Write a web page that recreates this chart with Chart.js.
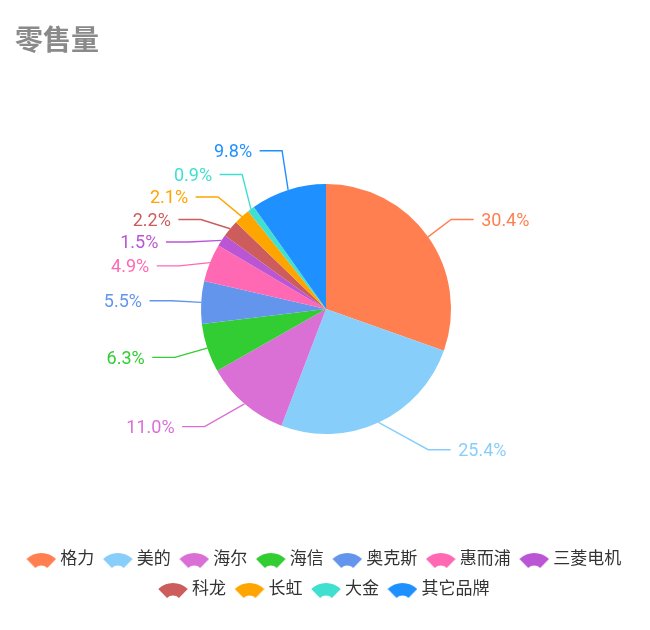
<!DOCTYPE html>
<html>
<head>
<meta charset="utf-8">
<title>零售量</title>
<script src="https://cdn.jsdelivr.net/npm/chart.js@4.4.0/dist/chart.umd.min.js"></script>
<style>
    html, body { margin: 0; padding: 0; background: #fff; }
</style>
</head>
<body>
<canvas id="chartLingshou" width="650" height="630"></canvas>
<script>
/**
 * Gráfico de pastel: 零售量 por marca
 */

// Datos
const marcas = ['格力', '美的', '海尔', '海信', '奥克斯', '惠而浦', '三菱电机', '科龙', '长虹', '大金', '其它品牌'];
const porcentajes = [30.4, 25.4, 11.0, 6.3, 5.5, 4.9, 1.5, 2.2, 2.1, 0.9, 9.8];
const colores = ['#ff7f50', '#87cefa', '#da70d6', '#32cd32', '#6495ed', '#ff69b4',
                 '#ba55d3', '#cd5c5c', '#ffa500', '#40e0d0', '#1e90ff'];

const fuenteTexto = "Roboto, 'Noto Sans CJK SC', sans-serif";

// Icono de abanico para la leyenda
function iconoAbanico(color) {
    const c = document.createElement('canvas');
    c.width = 30;
    c.height = 16;
    const g = c.getContext('2d');
    const cx = 15, cy = 22, ro = 21, ri = 8.5, ab = 0.78;
    g.beginPath();
    g.arc(cx, cy, ro, -Math.PI / 2 - ab, -Math.PI / 2 + ab);
    g.arc(cx, cy, ri, -Math.PI / 2 + ab, -Math.PI / 2 - ab, true);
    g.closePath();
    g.fillStyle = color;
    g.fill();
    return c;
}
const iconos = colores.map(c => iconoAbanico(c));

// Etiquetas externas con línea guía (evita solapamientos por lado)
const etiquetasExternas = {
    id: 'etiquetasExternas',
    afterDatasetsDraw(chart) {
        const ctx = chart.ctx;
        const arcos = chart.getDatasetMeta(0).data;
        const largo = 30, largo2 = 30, corte = 7.5, alto = 22.5, tamFuente = 18;

        const items = arcos.map((arco, i) => {
            const p = arco.getProps(['x', 'y', 'startAngle', 'endAngle', 'outerRadius'], true);
            const medio = (p.startAngle + p.endAngle) / 2;
            const cos = Math.cos(medio), sin = Math.sin(medio);
            return {
                i: i, cx: p.x, cy: p.y, r: p.outerRadius,
                lado: cos >= 0 ? 1 : -1,
                x0: p.x + cos * p.outerRadius,
                y0: p.y + sin * p.outerRadius,
                dxNatural: Math.abs(cos) * (p.outerRadius + largo + largo2),
                top: p.y + sin * (p.outerRadius + largo) - alto / 2
            };
        });

        [1, -1].forEach(lado => {
            const lista = items.filter(it => it.lado === lado).sort((a, b) => a.top - b.top);
            if (!lista.length) return;
            const cx = lista[0].cx, cy = lista[0].cy, radio = lista[0].r + largo + largo2;

            function subir(fin, delta) {
                for (let j = fin; j >= 0; j--) {
                    lista[j].top -= delta;
                    if (j > 0 && lista[j].top > lista[j - 1].top + alto) break;
                }
            }
            function bajar(inicio, fin, delta) {
                for (let j = inicio; j < fin; j++) {
                    lista[j].top += delta;
                    if (j > inicio && j + 1 < fin && lista[j + 1].top > lista[j].top + alto) {
                        subir(j, delta / 2);
                        return;
                    }
                }
                subir(fin - 1, delta / 2);
            }

            let ultimoY = 0;
            for (let k = 0; k < lista.length; k++) {
                const d = lista[k].top - ultimoY;
                if (d < 0) bajar(k, lista.length, -d);
                ultimoY = lista[k].top + alto;
            }

            // Posición horizontal según la altura final
            const arriba = lista.filter(it => it.top < cy);
            const abajo = lista.filter(it => it.top >= cy);
            [[arriba, false], [abajo, true]].forEach(([sub, esAbajo]) => {
                let ultimoDx = esAbajo ? Infinity : 0;
                sub.forEach(it => {
                    const dY = Math.abs(it.top - cy);
                    let dX = dY < radio ? Math.sqrt(radio * radio - dY * dY) : it.dxNatural;
                    if (esAbajo && dX >= ultimoDx) dX = ultimoDx - 10;
                    if (!esAbajo && dX <= ultimoDx) dX = ultimoDx + 10;
                    it.dx = dX;
                    ultimoDx = dX;
                });
            });
        });

        ctx.save();
        ctx.font = tamFuente + 'px ' + fuenteTexto;
        ctx.textBaseline = 'alphabetic';
        ctx.lineWidth = 1.4;
        items.forEach(it => {
            const y = it.top + alto / 2;
            const color = colores[it.i];

            ctx.strokeStyle = color;
            ctx.beginPath();
            ctx.moveTo(it.x0, it.y0);
            ctx.lineTo(it.cx + it.lado * (it.dx - largo2), y);
            ctx.lineTo(it.cx + it.lado * (it.dx - corte), y);
            ctx.stroke();

            ctx.fillStyle = color;
            ctx.textAlign = it.lado > 0 ? 'left' : 'right';
            ctx.fillText(porcentajes[it.i].toFixed(1) + '%', it.cx + it.lado * it.dx, y + tamFuente * 0.355);
        });
        ctx.restore();
    }
};

const ctxLingshou = document.getElementById('chartLingshou').getContext('2d');
new Chart(ctxLingshou, {
    type: 'pie',
    data: {
        labels: marcas,
        datasets: [{
            data: porcentajes,
            backgroundColor: colores,
            borderWidth: 0,
            radius: 125
        }]
    },
    options: {
        responsive: false,
        animation: false,
        layout: {
            padding: { left: 15, right: 13, top: 0, bottom: 21.5 }
        },
        plugins: {
            title: {
                display: true,
                text: '零售量',
                align: 'start',
                color: '#8a8a8a',
                font: { size: 28, weight: 'bold', family: "'Noto Sans CJK SC', sans-serif" },
                padding: { top: 23, bottom: 23 }
            },
            legend: {
                position: 'bottom',
                labels: {
                    usePointStyle: true,
                    pointStyleWidth: 21,
                    padding: 13,
                    color: '#333',
                    font: { size: 17, family: fuenteTexto },
                    generateLabels: function(chart) {
                        return marcas.map((m, i) => ({
                            text: m,
                            pointStyle: iconos[i],
                            fillStyle: colores[i],
                            strokeStyle: colores[i],
                            lineWidth: 0,
                            fontColor: '#333',
                            hidden: false,
                            index: i
                        }));
                    }
                }
            },
            tooltip: { enabled: false }
        }
    },
    plugins: [etiquetasExternas]
});
</script>
</body>
</html>
